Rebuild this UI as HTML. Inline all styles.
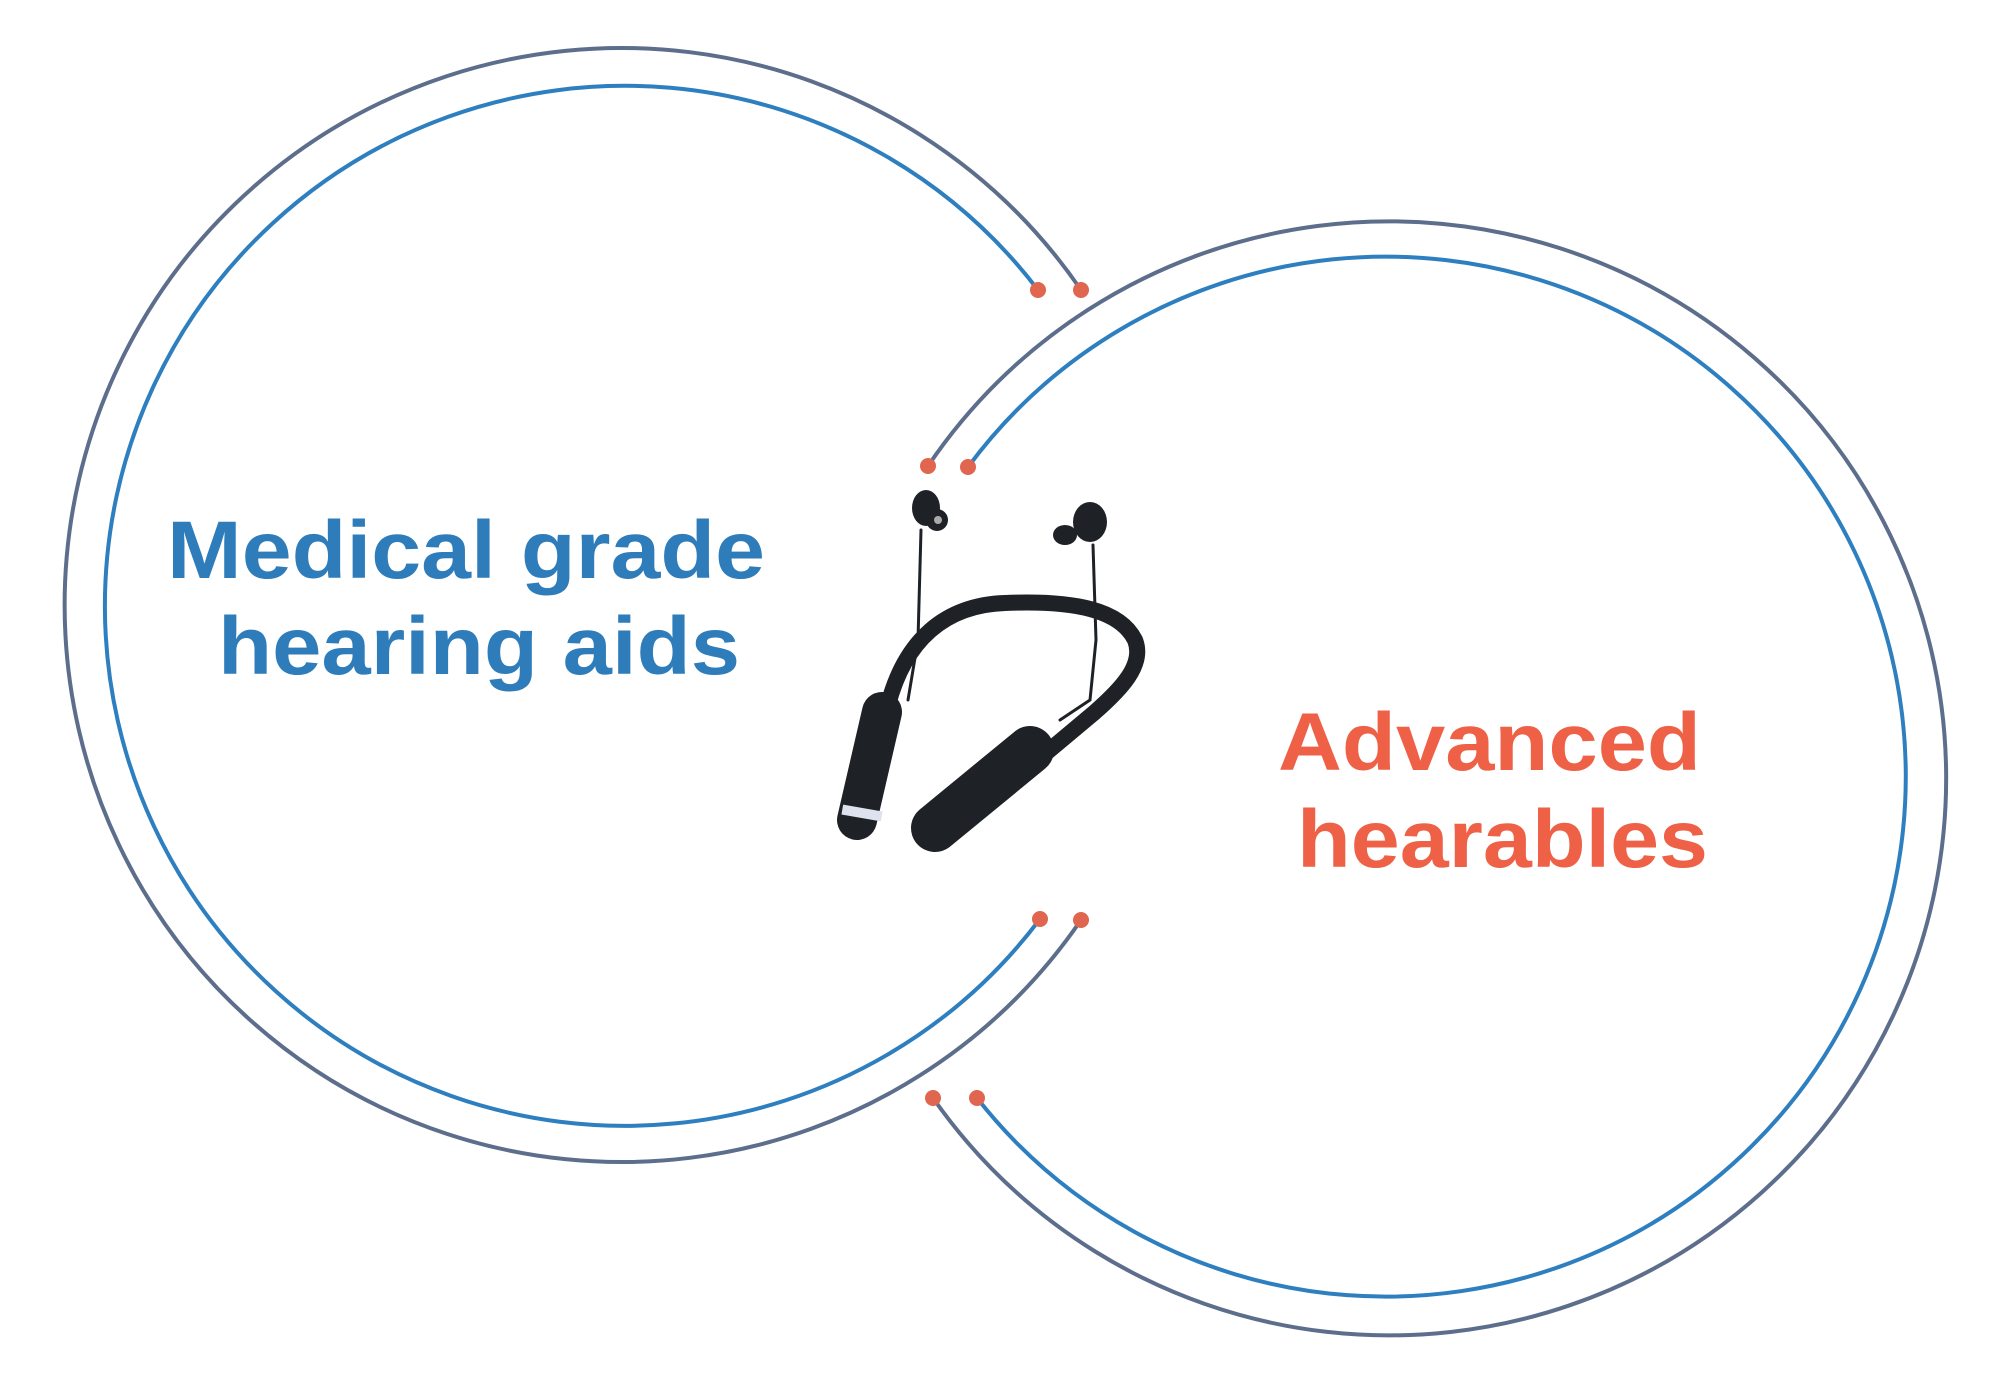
<!DOCTYPE html>
<html><head><meta charset="utf-8"><style>
html,body{margin:0;padding:0;background:#fff;}
svg{display:block}
text{font-family:"Liberation Sans",sans-serif;font-weight:bold;}
</style></head><body>
<svg width="2000" height="1392" viewBox="0 0 2000 1392" xmlns="http://www.w3.org/2000/svg">
<g fill="none" stroke-width="4" stroke-linecap="round">
<path d="M1081 290 A557 557 0 1 0 1081 920" stroke="#5d6e8c"/>
<path d="M1038 290 A520 520 0 1 0 1040 919" stroke="#2e7fbf"/>
<path d="M928 466 A557 557 0 1 1 933 1098" stroke="#5d6e8c"/>
<path d="M968 467 A520 520 0 1 1 977 1098" stroke="#2e7fbf"/>
</g>
<g fill="#e06650">
<circle cx="1081" cy="290" r="8"/><circle cx="1038" cy="290" r="8"/>
<circle cx="1081" cy="920" r="8"/><circle cx="1040" cy="919" r="8"/>
<circle cx="928" cy="466" r="8"/><circle cx="968" cy="467" r="8"/>
<circle cx="933" cy="1098" r="8"/><circle cx="977" cy="1098" r="8"/>
</g>
<text x="167" y="578" font-size="82" fill="#2e7dba" textLength="598" lengthAdjust="spacingAndGlyphs">Medical grade</text>
<text x="218" y="674" font-size="82" fill="#2e7dba" textLength="522" lengthAdjust="spacingAndGlyphs">hearing aids</text>
<text x="1278" y="770" font-size="82" fill="#ee6147" textLength="423" lengthAdjust="spacingAndGlyphs">Advanced</text>
<text x="1297" y="867" font-size="82" fill="#ee6147" textLength="411" lengthAdjust="spacingAndGlyphs">hearables</text>
<!-- headphones -->
<g fill="none" stroke="#1e2226" stroke-linecap="round">
<path d="M921 530 L918 640 L908 700" stroke-width="3"/>
<path d="M1093 545 L1096 640 L1090 700 L1060 720" stroke-width="3"/>
<path d="M888 705 C905 640 945 605 1005 603 C1075 600 1120 610 1135 640 C1145 665 1120 690 1095 712 L990 800" stroke-width="16"/>
<path d="M882 712 L857 820" stroke-width="40"/>
<path d="M1030 750 L935 828" stroke-width="48"/>
</g>
<rect x="842" y="808" width="40" height="10" fill="#dde2ee" transform="rotate(10 862 813)"/>
<g fill="#1e2226">
<ellipse cx="926" cy="508" rx="14" ry="18"/>
<circle cx="937" cy="520" r="11"/>
<ellipse cx="1090" cy="522" rx="17" ry="20"/>
<ellipse cx="1065" cy="535" rx="12" ry="10"/>
</g>
<circle cx="938" cy="520" r="4" fill="#aaa"/>
</svg>
</body></html>
